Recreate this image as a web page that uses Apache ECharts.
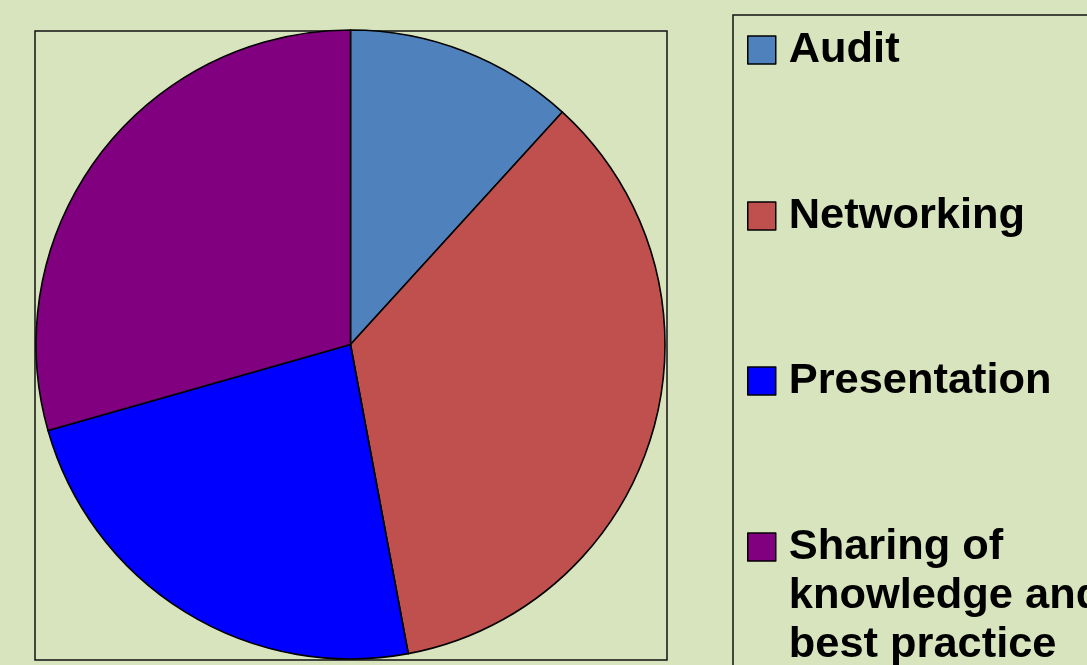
<!DOCTYPE html>
<html>
<head>
<meta charset="utf-8">
<script src="https://cdn.jsdelivr.net/npm/echarts@6/dist/echarts.min.js"></script>
<style>
html,body{margin:0;padding:0;background:#D8E4BD;}
#chart{width:1087px;height:665px;}
</style>
</head>
<body>
<div id="chart"></div>
<script>
const categories = ['Audit', 'Networking', 'Presentation', 'Sharing of\nknowledge and\nbest practice'];
const values = [4, 12, 8, 10];
const colors = ['#4F81BD', '#C0504D', '#0000FF', '#800080'];

const chart = echarts.init(document.getElementById('chart'));
const legendCenters = [50, 216, 381, 547];
const LH = 49;
const legends = categories.map((name, i) => {
  const nLines = name.split('\n').length;
  const extra = nLines - 1; // blank lines prepended so first line aligns with icon
  const totalLines = nLines + extra;
  return {
    data: [name],
    left: 747,
    top: legendCenters[i] - totalLines * LH / 2,
    padding: 0,
    orient: 'vertical',
    itemWidth: 28,
    itemHeight: 28,
    selectedMode: false,
    icon: 'rect',
    itemStyle: { borderColor: '#000', borderWidth: 1.5 },
    formatter: n => ' \n'.repeat(extra) + n,
    textStyle: {
      fontFamily: 'Liberation Sans, Arial, sans-serif',
      fontWeight: 'bold',
      fontSize: 43.4,
      color: '#000',
      lineHeight: LH,
      padding: [0, 0, 0, 8]
    }
  };
});

chart.setOption({
  backgroundColor: '#D8E4BD',
  animation: false,
  color: colors,
  legend: legends,
  graphic: [
    { type: 'rect', shape: { x: 35, y: 31, width: 632, height: 629 },
      style: { fill: 'none', stroke: '#111', lineWidth: 1.5 }, z: -1 },
    { type: 'rect', shape: { x: 733, y: 15, width: 400, height: 700 },
      style: { fill: 'none', stroke: '#111', lineWidth: 1.5 }, z: -1 }
  ],
  series: [{
    type: 'pie',
    center: [350.5, 344.5],
    radius: 314.5,
    startAngle: 90,
    clockwise: true,
    label: { show: false },
    labelLine: { show: false },
    emphasis: { disabled: true },
    itemStyle: { borderColor: '#000', borderWidth: 1.6 },
    data: categories.map((n, i) => ({ name: n, value: values[i] }))
  }]
});
</script>
</body>
</html>
